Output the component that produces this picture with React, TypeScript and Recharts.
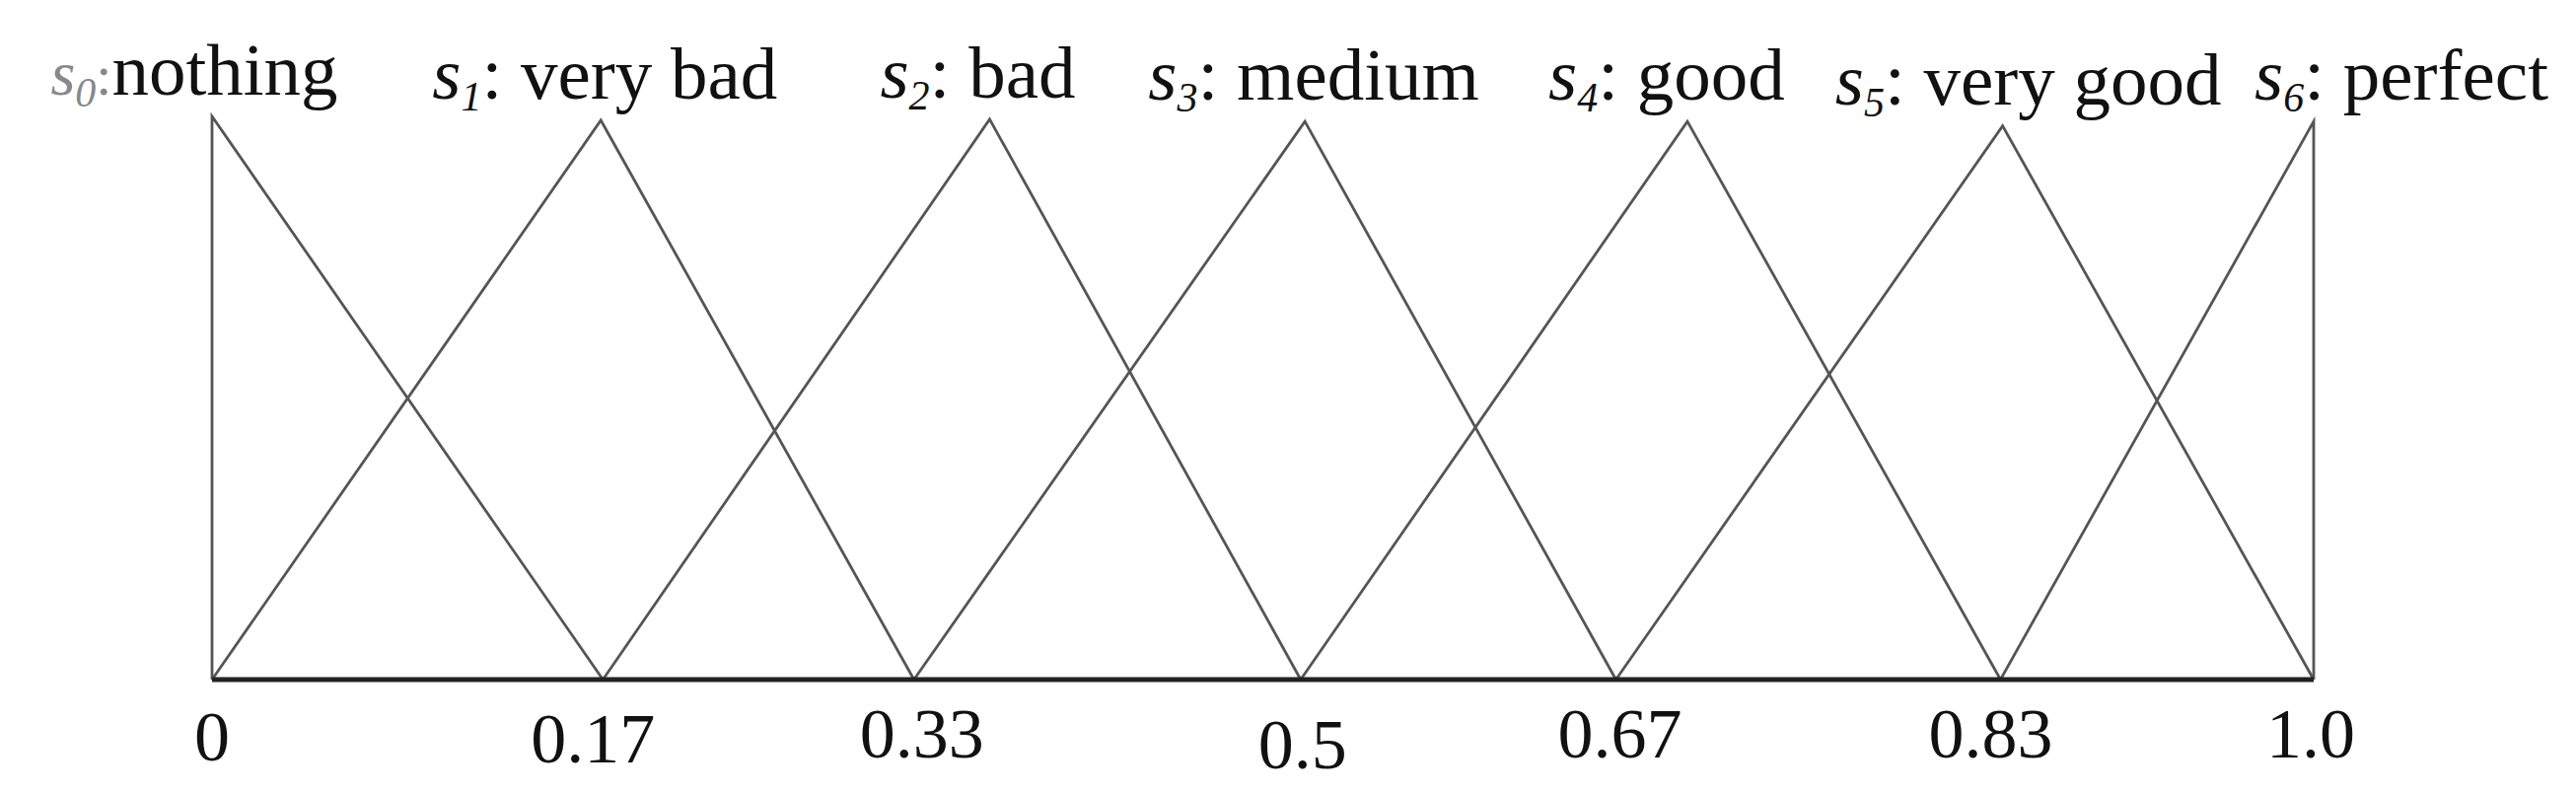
import { LineChart, Line, XAxis, YAxis, LabelList } from 'recharts'

// positions on the x axis where the triangles meet the baseline
const BASES = [0, 0.186, 0.334, 0.518, 0.668, 0.851, 1.0]
const TICK_LABELS = ['0', '0.17', '0.33', '0.5', '0.67', '0.83', '1.0']
// peak of each triangle
const PEAKS = [0, 0.185, 0.37, 0.52, 0.702, 0.852, 1.0]
const HEIGHTS = [1.005, 0.998, 1.0, 0.996, 0.996, 0.988, 0.996]
const TERMS = ['nothing', 'very bad', 'bad', 'medium', 'good', 'very good', 'perfect']

// layout only
const LABEL_DX = [-18, 4, -12, 9, -21, 26, 89]
const TICK_DX = [0, -10, 8, 2, 4, -10, -3]
const TICK_DY = [0, 2, -3, 8, -3, -3, -3]
const FONT = '"Liberation Serif", "Times New Roman", serif'

const triangle = (i: number) => {
  const left = i === 0 ? 0 : BASES[i - 1]
  const right = i === BASES.length - 1 ? 1 : BASES[i + 1]
  return [
    { x: left, y: 0 },
    { x: PEAKS[i], y: HEIGHTS[i] },
    { x: right, y: 0 },
  ]
}

const SERIES = TERMS.map((term, i) => ({ term, i, data: triangle(i) }))

function Tick(props: any) {
  const { x, y, payload, index } = props
  const idx = index ?? BASES.indexOf(payload.value)
  return (
    <text
      x={x}
      y={y}
      dx={TICK_DX[idx] || 0}
      dy={82 + (TICK_DY[idx] || 0)}
      textAnchor="middle"
      fontFamily={FONT}
      fontSize={72}
      fill="#111"
    >
      {TICK_LABELS[idx]}
    </text>
  )
}

function termLabel(i: number) {
  return (props: any) => {
    if (props.index !== 1) return null
    const x = (props.x ?? props.viewBox?.x) + LABEL_DX[i]
    const y = (props.y ?? props.viewBox?.y) - 22
    const first = i === 0
    const c = first ? '#888' : '#111'
    return (
      <text x={x} y={y} textAnchor="middle" fontFamily={FONT} fontSize={75} fill="#111">
        <tspan fontStyle="italic" fill={c} fontSize={first ? 64 : 75}>s</tspan>
        <tspan fontStyle="italic" fill={c} fontSize={42} dy={12}>{i}</tspan>
        <tspan fill={c} fontSize={first ? 58 : 75} dy={-12}>:</tspan>
        <tspan>{first ? '' : ' '}{TERMS[i]}</tspan>
      </text>
    )
  }
}

export default function App() {
  return (
    <div style={{ position: 'absolute', left: 0, top: 0, width: 2612, height: 804, background: '#fff' }}>
      <LineChart width={2612} height={804} margin={{ top: 118, right: 266, left: 215, bottom: 15 }}>
        <XAxis
          type="number"
          dataKey="x"
          domain={[0, 1]}
          ticks={BASES}
          interval={0}
          height={100}
          tickSize={0}
          tickMargin={0}
          tickLine={false}
          axisLine={{ stroke: '#222', strokeWidth: 5 }}
          tick={<Tick />}
          allowDuplicatedCategory={false}
        />
        <YAxis hide type="number" domain={[0, 1]} />
        {SERIES.map((s) => (
          <Line
            key={s.term}
            data={s.data}
            dataKey="y"
            type="linear"
            stroke="#555"
            strokeWidth={2.8}
            dot={false}
            activeDot={false}
            isAnimationActive={false}
          >
            <LabelList dataKey="y" content={termLabel(s.i)} />
          </Line>
        ))}
      </LineChart>
    </div>
  )
}
